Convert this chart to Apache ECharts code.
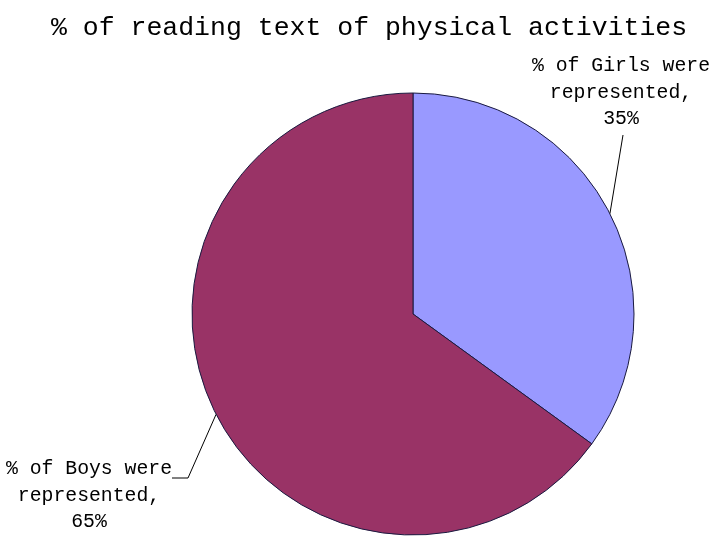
<!DOCTYPE html>
<html><head><meta charset="utf-8">
<script src="https://cdn.jsdelivr.net/npm/echarts@6/dist/echarts.min.js"></script>
<style>html,body{margin:0;padding:0;background:#fff}#c{width:717px;height:546px}</style>
</head><body><div id="c"></div>
<script>
const titleText = '% of reading text of physical activities';
const categories = ['% of Girls were', '% of Boys were'];
const values = [35, 65];
const colors = ['#9999FF', '#993366'];

const FONT = '"Liberation Mono", "DejaVu Sans Mono", monospace';
const labelPos = [
  {x: 621, y: 53, line: [[623, 135], [623, 135]]},
  {x: 89, y: 456, line: [[188, 478], [172, 478]]}
];
const chart = echarts.init(document.getElementById('c'));
chart.setOption({
  backgroundColor: '#fff',
  animation: false,
  title: {
    text: titleText, left: 46, top: 9,
    textStyle: {fontFamily: FONT, fontSize: 26.5, fontWeight: 'normal', color: '#000'}
  },
  series: [{
    type: 'pie',
    center: [413, 314],
    radius: 221,
    startAngle: 90,
    clockwise: true,
    data: categories.map((c, i) => ({name: c, value: values[i], itemStyle: {color: colors[i]}})),
    itemStyle: {borderColor: '#1a1a40', borderWidth: 1},
    label: {
      show: true,
      position: 'outside',
      overflow: 'none',
      bleedMargin: 0,
      formatter: p => p.name + '\nrepresented,\n' + p.value + '%',
      fontFamily: FONT, fontSize: 19.8, lineHeight: 26.5, color: '#000', align: 'center'
    },
    labelLine: {show: true, length: 20, length2: 15, lineStyle: {color: '#000', width: 1}},
    emphasis: {disabled: true},
    labelLayout: function (p) {
      const pos = labelPos[p.dataIndex];
      const out = {x: pos.x, y: pos.y, align: 'center', verticalAlign: 'top'};
      if (p.labelLinePoints && p.labelLinePoints[0]) {
        out.labelLinePoints = [p.labelLinePoints[0], pos.line[0], pos.line[1]];
      }
      return out;
    }
  }]
});
</script></body></html>
